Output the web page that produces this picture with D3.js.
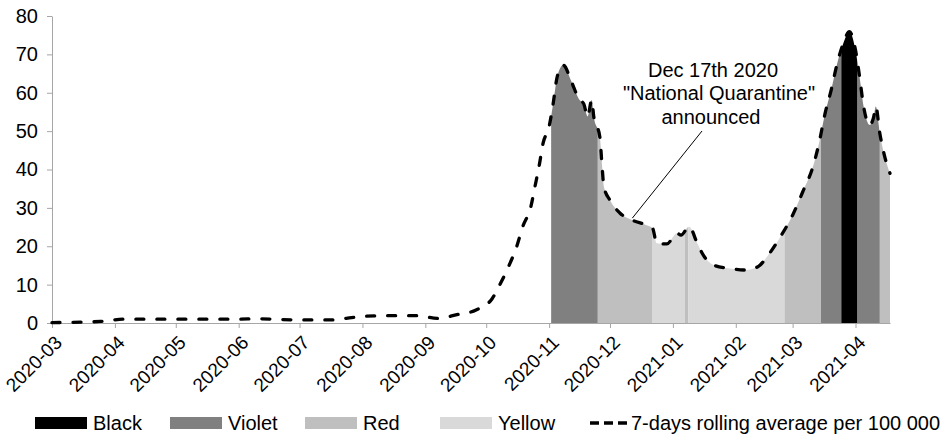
<!DOCTYPE html>
<html>
<head>
<meta charset="utf-8">
<script src="https://cdn.jsdelivr.net/npm/d3@7"></script>
<style>
  body { margin: 0; background: #fff; }
  svg { display: block; font-family: "Liberation Sans", Arial, sans-serif; }
</style>
</head>
<body>
<div id="chart"></div>
<script>
// 7-day rolling average per 100 000
const dates = [
  "2020-03-01", "2020-03-25", "2020-04-05", "2020-05-01", "2020-06-01", "2020-06-10",
  "2020-07-01", "2020-07-16", "2020-07-24", "2020-08-03", "2020-08-15", "2020-08-28",
  "2020-09-07", "2020-09-16", "2020-09-26", "2020-10-04", "2020-10-08", "2020-10-12",
  "2020-10-16", "2020-10-19", "2020-10-23", "2020-10-25", "2020-10-27", "2020-10-29",
  "2020-11-01", "2020-11-03", "2020-11-05", "2020-11-08", "2020-11-12", "2020-11-16",
  "2020-11-18", "2020-11-20", "2020-11-22", "2020-11-23", "2020-11-26", "2020-11-27",
  "2020-11-28", "2020-12-01", "2020-12-06", "2020-12-12", "2020-12-19", "2020-12-22",
  "2020-12-24", "2020-12-29", "2021-01-03", "2021-01-05", "2021-01-09", "2021-01-13",
  "2021-01-16", "2021-01-21", "2021-01-29", "2021-02-06", "2021-02-12", "2021-02-17",
  "2021-02-23", "2021-03-01", "2021-03-06", "2021-03-11", "2021-03-14", "2021-03-17",
  "2021-03-20", "2021-03-23", "2021-03-26", "2021-03-29", "2021-04-01", "2021-04-03",
  "2021-04-05", "2021-04-08", "2021-04-10", "2021-04-11", "2021-04-13", "2021-04-15",
  "2021-04-18"
];
const values = [
  0.1, 0.4, 1.0, 1.0, 1.0, 1.1,
  0.8, 0.8, 1.2, 1.8, 1.9, 1.9,
  1.2, 2.1, 3.4, 6.4, 10.3, 14.7,
  19.9, 25.1, 30.3, 35.5, 40.7, 46.8,
  51.2, 57.2, 64.2, 67.2, 62.9, 58.1,
  57.2, 53.8, 58.1, 53.8, 48.5, 41.6,
  35.5, 32.0, 28.6, 26.8, 25.5, 24.7,
  20.8, 20.6, 23.4, 22.9, 25.1, 20.8,
  17.7, 15.1, 14.2, 13.8, 14.7, 17.7,
  22.5, 28.1, 34.2, 40.7, 46.8, 54.6,
  60.7, 67.7, 72.9, 75.9, 71.1, 64.2,
  56.4, 51.6, 53.8, 56.4, 49.4, 44.2,
  39.0
];

// colour zones
const zoneStarts = ["2020-11-02", "2020-11-25", "2020-12-22", "2021-01-07T00:00", "2021-01-08T12:00",
                    "2021-02-25", "2021-03-15", "2021-03-25", "2021-04-02", "2021-04-13"];
const zoneEnds   = ["2020-11-25", "2020-12-22", "2021-01-07T00:00", "2021-01-08T12:00", "2021-02-25",
                    "2021-03-15", "2021-03-25", "2021-04-02", "2021-04-13", "2021-04-18"];
const zoneNames  = ["Violet", "Red", "Yellow", "Red", "Yellow", "Red", "Violet", "Black", "Violet", "Red"];

const yTicks = [0, 10, 20, 30, 40, 50, 60, 70, 80];
const monthTicks = ["2020-03", "2020-04", "2020-05", "2020-06", "2020-07", "2020-08", "2020-09",
                    "2020-10", "2020-11", "2020-12", "2021-01", "2021-02", "2021-03", "2021-04"];

const legendNames = ["Black", "Violet", "Red", "Yellow"];
const lineLabel = "7-days rolling average per 100 000";
const noteLines = ["Dec 17th 2020", "\"National Quarantine\"", "announced"];
const noteDate = "2020-12-12";
const noteValue = 26.8;

const zoneColor = { Black: "#000000", Violet: "#808080", Red: "#bfbfbf", Yellow: "#d9d9d9" };

const width = 948, height = 436;
const axisColor = "#a6a6a6";

const parse = s => new Date(s.length > 10 ? s + "Z" : s + "T00:00Z");
const data = dates.map((d, i) => ({ date: parse(d), value: values[i] }));

const svg = d3.select("#chart").append("svg")
  .attr("width", width)
  .attr("height", height);

const x = d3.scaleUtc()
  .domain([parse("2020-03-01"), parse("2021-04-18")])
  .range([52, 890]);

const y = d3.scaleLinear()
  .domain([0, 80])
  .range([323, 16]);

// zone fills under the curve
const area = d3.area()
  .x(d => x(d.date))
  .y0(y(0))
  .y1(d => y(d.value))
  .curve(d3.curveMonotoneX);

const defs = svg.append("defs");
zoneNames.forEach((name, i) => {
  const x0 = x(parse(zoneStarts[i]));
  const x1 = x(parse(zoneEnds[i]));
  defs.append("clipPath")
    .attr("id", "zone-" + i)
    .append("rect")
    .attr("x", x0)
    .attr("y", 0)
    .attr("width", x1 - x0)
    .attr("height", height);
  svg.append("path")
    .datum(data)
    .attr("clip-path", `url(#zone-${i})`)
    .attr("fill", zoneColor[name])
    .attr("d", area);
});

// axes
const xAxis = svg.append("g")
  .attr("transform", `translate(0,${y(0)})`)
  .call(d3.axisBottom(x)
    .tickValues(monthTicks.map(m => parse(m + "-01")))
    .tickFormat(d3.utcFormat("%Y-%m"))
    .tickSize(5)
    .tickSizeOuter(0));
xAxis.select(".domain").attr("stroke", axisColor);
xAxis.selectAll(".tick line").attr("stroke", axisColor);
xAxis.selectAll(".tick text")
  .attr("font-size", 19)
  .attr("fill", "#000")
  .attr("text-anchor", "end")
  .attr("dx", 0)
  .attr("dy", 0)
  .attr("transform", "translate(5,15) rotate(-45)");

const yAxis = svg.append("g")
  .attr("transform", `translate(${x.range()[0]},0)`)
  .call(d3.axisLeft(y)
    .tickValues(yTicks)
    .tickSize(5)
    .tickSizeOuter(0));
yAxis.select(".domain").attr("stroke", axisColor);
yAxis.selectAll(".tick line").attr("stroke", axisColor);
yAxis.selectAll(".tick text")
  .attr("font-size", 20)
  .attr("fill", "#000")
  .attr("x", -14);

// rolling average line
const line = d3.line()
  .x(d => x(d.date))
  .y(d => y(d.value))
  .curve(d3.curveMonotoneX);

svg.append("path")
  .datum(data)
  .attr("fill", "none")
  .attr("stroke", "#000")
  .attr("stroke-width", 3.3)
  .attr("stroke-linecap", "round")
  .attr("stroke-dasharray", "8 13")
  .attr("d", line);

// annotation
svg.append("line")
  .attr("x1", 702)
  .attr("y1", 131)
  .attr("x2", x(parse(noteDate)))
  .attr("y2", y(noteValue) - 2)
  .attr("stroke", "#000")
  .attr("stroke-width", 1);

const noteX = [713, 719, 711];
svg.append("g")
  .selectAll("text")
  .data(noteLines)
  .join("text")
  .attr("x", (d, i) => noteX[i])
  .attr("y", (d, i) => 77 + i * 23.3)
  .attr("text-anchor", "middle")
  .attr("font-size", 20)
  .text(d => d);

// legend
const legend = svg.append("g").attr("class", "legend");
legendNames.forEach((name, i) => {
  const lx = 35 + i * 135;
  legend.append("rect")
    .attr("x", lx)
    .attr("y", 417)
    .attr("width", 52)
    .attr("height", 12)
    .attr("fill", zoneColor[name]);
  legend.append("text")
    .attr("x", lx + 58)
    .attr("y", 430)
    .attr("font-size", 20)
    .text(name);
});
legend.append("line")
  .attr("x1", 590)
  .attr("x2", 627)
  .attr("y1", 423)
  .attr("y2", 423)
  .attr("stroke", "#000")
  .attr("stroke-width", 3.3)
  .attr("stroke-dasharray", "9 5");
legend.append("text")
  .attr("x", 631)
  .attr("y", 430)
  .attr("font-size", 20)
  .text(lineLabel);
</script>
</body>
</html>
